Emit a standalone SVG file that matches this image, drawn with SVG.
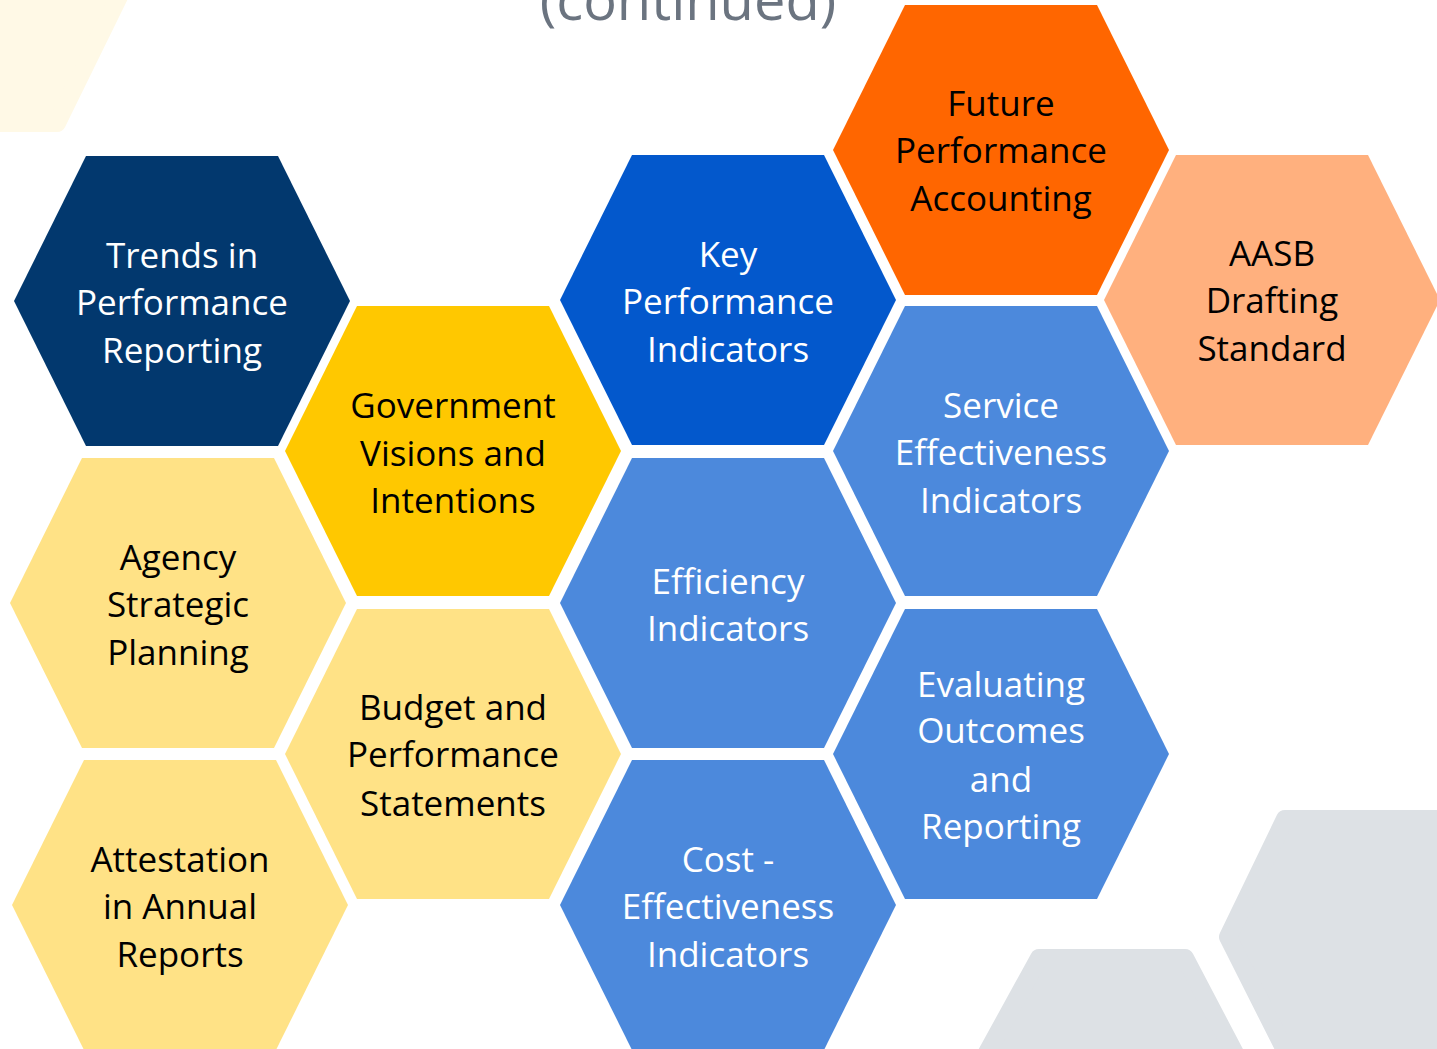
<svg xmlns="http://www.w3.org/2000/svg" xmlns:xlink="http://www.w3.org/1999/xlink" width="1437" height="1049" viewBox="0 0 1437 1049">
  <defs>
    <polygon id="hex" points="-168,0 -96,-145 96,-145 168,0 96,145 -96,145"/>
  </defs>
  <style>
    .lbl { font-family: "Open Sans", "Liberation Sans", sans-serif; font-size: 35px; text-anchor: middle; }
    .w { fill: #FFFFFF; }
    .k { fill: #000000; }
    .navy { fill: #02386E; }
    .gold { fill: #FFC800; }
    .pale { fill: #FFE286; }
    .royal { fill: #0358CC; }
    .orange { fill: #FF6600; }
    .peach { fill: #FFB07E; }
    .mid { fill: #4C89DC; }
    .bg { stroke-linejoin: round; stroke-width: 18; }
    .gray { fill: #DDE1E5; stroke: #DDE1E5; }
  </style>
  <rect width="1437" height="1049" fill="#FFFFFF"/>

  <!-- background decorative shapes -->
  <g id="background">
    <polygon class="bg" points="-90,-30 132,-30 57,123 -100,123" fill="#FFF9E6" stroke="#FFF9E6"/>
    <polygon class="bg gray" points="1039,958 1185,958 1270,1120 950,1120"/>
    <polygon class="bg gray" points="1285,819 1460,819 1460,1060 1290,1060 1228,937"/>
  </g>

  <text x="688" y="20" font-family="'Open Sans', 'Liberation Sans', sans-serif" font-size="56" fill="#6B7480" text-anchor="middle">(continued)</text>

  <g id="node-trends">
    <use href="#hex" x="182" y="301" class="navy"/>
    <text class="lbl w"><tspan x="182" y="268">Trends in</tspan><tspan x="182" y="315">Performance</tspan><tspan x="182" y="363">Reporting</tspan></text>
  </g>
  <g id="node-agency">
    <use href="#hex" x="178" y="603" class="pale"/>
    <text class="lbl k"><tspan x="178" y="570">Agency</tspan><tspan x="178" y="617">Strategic</tspan><tspan x="178" y="665">Planning</tspan></text>
  </g>
  <g id="node-attestation">
    <use href="#hex" x="180" y="905" class="pale"/>
    <text class="lbl k"><tspan x="180" y="872">Attestation</tspan><tspan x="180" y="919">in Annual</tspan><tspan x="180" y="967">Reports</tspan></text>
  </g>
  <g id="node-government">
    <use href="#hex" x="453" y="451" class="gold"/>
    <text class="lbl k"><tspan x="453" y="418">Government</tspan><tspan x="453" y="466">Visions and</tspan><tspan x="453" y="513">Intentions</tspan></text>
  </g>
  <g id="node-budget">
    <use href="#hex" x="453" y="754" class="pale"/>
    <text class="lbl k"><tspan x="453" y="720">Budget and</tspan><tspan x="453" y="767">Performance</tspan><tspan x="453" y="816">Statements</tspan></text>
  </g>
  <g id="node-key">
    <use href="#hex" x="728" y="300" class="royal"/>
    <text class="lbl w"><tspan x="728" y="267">Key</tspan><tspan x="728" y="314">Performance</tspan><tspan x="728" y="362">Indicators</tspan></text>
  </g>
  <g id="node-efficiency">
    <use href="#hex" x="728" y="603" class="mid"/>
    <text class="lbl w"><tspan x="728" y="594">Efficiency</tspan><tspan x="728" y="641">Indicators</tspan></text>
  </g>
  <g id="node-cost">
    <use href="#hex" x="728" y="905" class="mid"/>
    <text class="lbl w"><tspan x="728" y="872">Cost -</tspan><tspan x="728" y="919">Effectiveness</tspan><tspan x="728" y="967">Indicators</tspan></text>
  </g>
  <g id="node-future">
    <use href="#hex" x="1001" y="150" class="orange"/>
    <text class="lbl k"><tspan x="1001" y="116">Future</tspan><tspan x="1001" y="163">Performance</tspan><tspan x="1001" y="211">Accounting</tspan></text>
  </g>
  <g id="node-service">
    <use href="#hex" x="1001" y="451" class="mid"/>
    <text class="lbl w"><tspan x="1001" y="418">Service</tspan><tspan x="1001" y="465">Effectiveness</tspan><tspan x="1001" y="513">Indicators</tspan></text>
  </g>
  <g id="node-evaluating">
    <use href="#hex" x="1001" y="754" class="mid"/>
    <text class="lbl w"><tspan x="1001" y="697">Evaluating</tspan><tspan x="1001" y="743">Outcomes</tspan><tspan x="1001" y="792">and</tspan><tspan x="1001" y="839">Reporting</tspan></text>
  </g>
  <g id="node-aasb">
    <use href="#hex" x="1272" y="300" class="peach"/>
    <text class="lbl k"><tspan x="1272" y="266">AASB</tspan><tspan x="1272" y="313">Drafting</tspan><tspan x="1272" y="361">Standard</tspan></text>
  </g>

  <g id="connectors"/>
</svg>
